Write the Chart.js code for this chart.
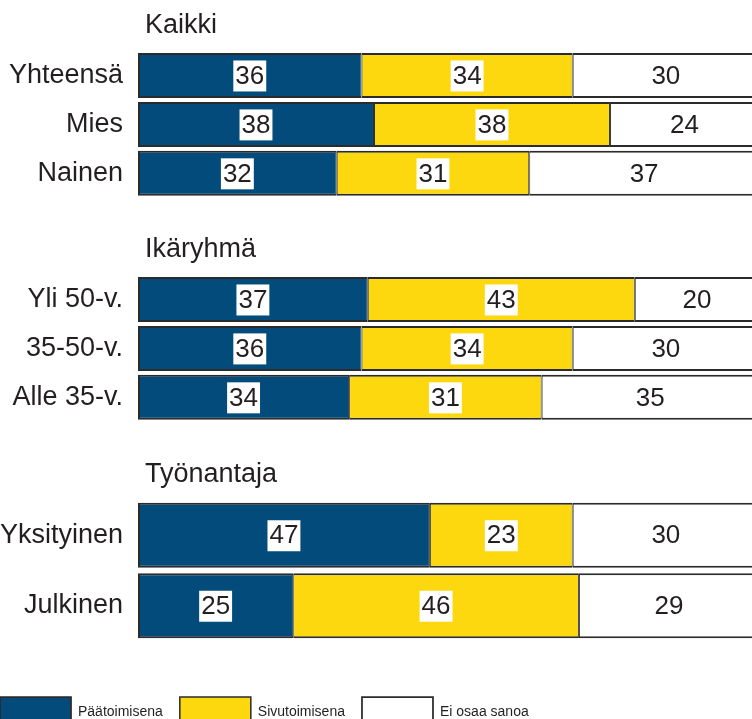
<!DOCTYPE html>
<html><head><meta charset="utf-8">
<script src="https://cdn.jsdelivr.net/npm/chart.js@4/dist/chart.umd.min.js"></script>
<style>
html,body{margin:0;padding:0;background:#fff;overflow:hidden;width:752px;height:719px;position:relative;}
.box{position:absolute;}
</style></head><body>
<div class="box" style="left:0;top:0;width:760px;height:229px"><canvas id="c0"></canvas></div>
<div class="box" style="left:0;top:220px;width:760px;height:233px"><canvas id="c1"></canvas></div>
<div class="box" style="left:-17px;top:440px;width:777px;height:297px"><canvas id="c2"></canvas></div>
<script>
const groupTitles = ['Kaikki', 'Ikäryhmä', 'Työnantaja'];
const categories = ['Yhteensä', 'Mies', 'Nainen', 'Yli 50-v.', '35-50-v.', 'Alle 35-v.', 'Yksityinen', 'Julkinen'];
const groupSizes = [3, 3, 2];
const seriesNames = ['Päätoimisena', 'Sivutoimisena', 'Ei osaa sanoa'];
const paatoimisena = [36, 38, 32, 37, 36, 34, 47, 25];
const sivutoimisena = [34, 38, 31, 43, 34, 31, 23, 46];
const eiOsaaSanoa = [30, 24, 37, 20, 30, 35, 30, 29];

const FONT = '"Liberation Sans", Arial, Helvetica, sans-serif';
const TEXT = '#231f20';
const EDGE = '#2b2b2b';
const colors = ['#034b7b', '#fdd80f', '#ffffff'];

const labelPlugin = {
  id: 'valueLabels',
  afterDatasetsDraw(chart, args, opts) {
    const ctx = chart.ctx;
    ctx.save();
    ctx.font = '26px ' + FONT;
    ctx.textAlign = 'center';
    ctx.textBaseline = 'middle';
    chart.data.datasets.forEach((ds, di) => {
      const meta = chart.getDatasetMeta(di);
      meta.data.forEach((bar, i) => {
        const t = String(ds.data[i]);
        const p = bar.getCenterPoint();
        const w = ctx.measureText(t).width;
        if (di < 2) {
          ctx.fillStyle = '#ffffff';
          ctx.fillRect(p.x - w / 2 - 2, p.y - 15, w + 4, 31);
        }
        ctx.fillStyle = TEXT;
        ctx.fillText(t, p.x, p.y + 1);
      });
    });
    ctx.font = '27px ' + FONT;
    ctx.textAlign = 'left';
    ctx.textBaseline = 'alphabetic';
    ctx.fillStyle = TEXT;
    ctx.fillText(opts.title, chart.chartArea.left + 7, chart.chartArea.top - 18);
    ctx.restore();
  }
};

const layouts = [
  {pad: {top: 51, bottom: 0, left: 0, right: 1}, axisW: 138, legend: false},
  {pad: {top: 55, bottom: 0, left: 0, right: 1}, axisW: 138, legend: false},
  {pad: {top: 60, bottom: 0, left: 0, right: 1}, axisW: 155, legend: true}
];

let start = 0;
groupSizes.forEach((n, g) => {
  const sl = arr => arr.slice(start, start + n);
  const L = layouts[g];
  const series = [paatoimisena, sivutoimisena, eiOsaaSanoa];
  const datasets = series.map((arr, k) => ({
    label: seriesNames[k],
    data: sl(arr),
    backgroundColor: colors[k],
    borderColor: EDGE,
    borderWidth: {top: 2, bottom: 2, left: k === 0 ? 2 : 1, right: k === 2 ? 2 : 1},
    borderSkipped: false,
    barPercentage: 0.92,
    categoryPercentage: 1
  }));
  new Chart(document.getElementById('c' + g), {
    type: 'bar',
    data: {labels: sl(categories), datasets},
    options: {
      indexAxis: 'y',
      responsive: true,
      maintainAspectRatio: false,
      animation: false,
      layout: {padding: L.pad},
      scales: {
        x: {
          stacked: true, min: 0, max: 100,
          display: L.legend,
          grid: {display: false, drawTicks: false},
          border: {display: false},
          ticks: {display: false},
          afterFit(s) { if (L.legend) s.height = 39; }
        },
        y: {
          stacked: true,
          grid: {display: false, drawTicks: false},
          border: {display: false},
          ticks: {padding: 15, color: TEXT, font: {size: 27, family: FONT}},
          afterFit(s) { s.width = L.axisW; }
        }
      },
      plugins: {
        legend: {
          display: L.legend,
          position: 'bottom',
          align: 'start',
          labels: {
            boxWidth: 71, boxHeight: 30, padding: 17, color: TEXT,
            font: {size: 14, family: FONT}
          }
        },
        tooltip: {enabled: false},
        valueLabels: {title: groupTitles[g]}
      }
    },
    plugins: [labelPlugin]
  });
  start += n;
});
</script>
</body></html>
